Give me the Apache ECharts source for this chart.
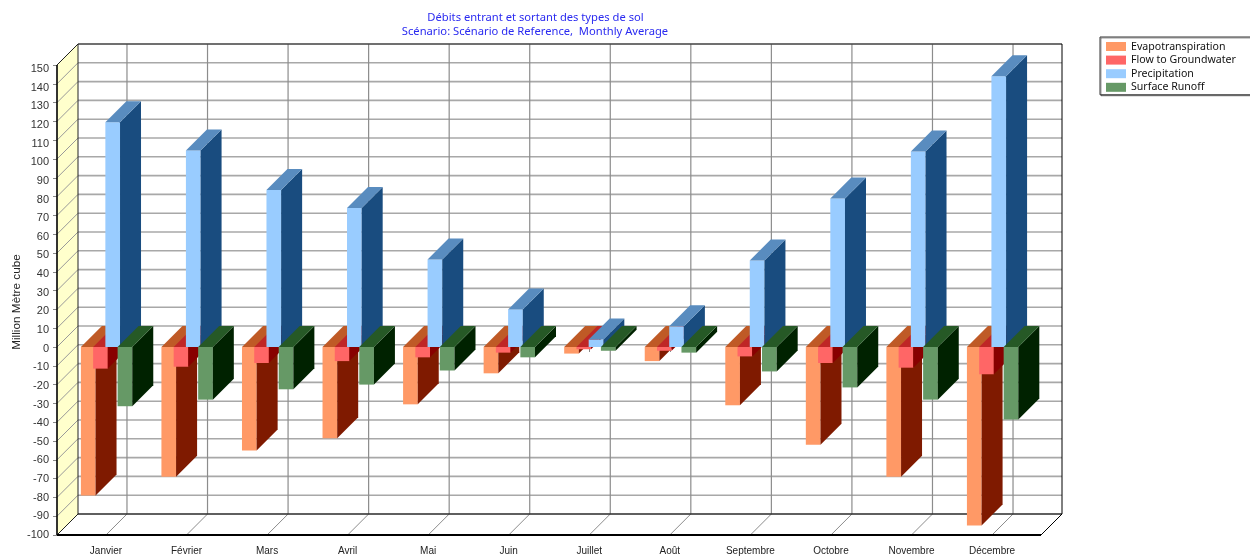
<!DOCTYPE html>
<html>
<head>
<meta charset="utf-8">
<script src="https://cdn.jsdelivr.net/npm/echarts@6/dist/echarts.min.js"></script>
<style>html,body{margin:0;padding:0;background:#fff}#c{width:1250px;height:556px}</style>
</head>
<body>
<div id="c"></div>
<script>
const titleLine1 = 'Débits entrant et sortant des types de sol';
const titleLine2 = 'Scénario: Scénario de Reference,  Monthly Average';
const yAxisName = 'Million Mètre cube';
const months = ['Janvier','Février','Mars','Avril','Mai','Juin','Juillet','Août','Septembre','Octobre','Novembre','Décembre'];
const evapotranspiration = [-79,-69,-55,-48.5,-30.5,-14,-3.5,-7.5,-31,-52,-69,-95];
const flowToGroundwater = [-11.5,-10.5,-8.5,-7.5,-5.5,-3,-1.2,-2,-5,-8.5,-11,-14.5];
const precipitation = [119.5,104.5,83.5,74,46.5,20,4,11,46,79,104,144];
const surfaceRunoff = [-31.5,-28,-22.5,-20,-12.5,-5.5,-2,-3,-13,-21.5,-28,-38.5];
const yTicks = [-100,-90,-80,-70,-60,-50,-40,-30,-20,-10,0,10,20,30,40,50,60,70,80,90,100,110,120,130,140,150];

const D = 21;              // depth of the 3D effect, px
const LEFT_INSET = 8.7;    // front plane extends this far beyond the band range
const RIGHT_INSET = 8.7;

function line(x1,y1,x2,y2,stroke,w){
  return {type:'line',silent:true,shape:{x1,y1,x2,y2},style:{stroke,lineWidth:w,fill:null}};
}
function poly(points,fill){
  return {type:'polygon',silent:true,shape:{points},style:{fill,stroke:null}};
}

function wallsItem(params,api){
  const cs = params.coordSys;
  const yB = api.coord([0,-100])[1], yT = api.coord([0,150])[1];
  const xL = cs.x-LEFT_INSET;
  return {type:'group',children:[
    poly([[xL,yB],[xL+D,yB-D],[xL+D,yT-D],[xL,yT]],'#ffffcc')
  ]};
}
function hGridItem(params,api){
  const cs = params.coordSys;
  const y = api.coord([0,api.value(0)])[1];
  const xL = cs.x-LEFT_INSET, xR = cs.x+cs.width+RIGHT_INSET;
  return {type:'group',children:[
    line(xL,y,xL+D,y-D,'#999999',1),
    line(xL+D,y-D,xR+D,y-D,'#a8a8a8',1.6)
  ]};
}
function vGridItem(params,api){
  const c = api.coord([api.value(0),-100]);
  const yT = api.coord([0,150])[1];
  return {type:'group',children:[
    line(c[0],c[1],c[0]+D,c[1]-D,'#8c8c8c',1),
    line(c[0]+D,c[1]-D,c[0]+D,yT-D,'#8c8c8c',1.2)
  ]};
}
function frameItem(params,api){
  const cs = params.coordSys;
  const yB = api.coord([0,-100])[1], yT = api.coord([0,150])[1];
  const xL = cs.x-LEFT_INSET, xR = cs.x+cs.width+RIGHT_INSET;
  const k = '#000000';
  return {type:'group',children:[
    line(xL+D,yT-D,xR+D,yT-D,'#222222',1),
    line(xL+D,yT-D,xL+D,yB-D,'#222222',1),
    line(xR+D,yT-D,xR+D,yB-D,k,1),
    line(xL+D,yB-D,xR+D,yB-D,k,1),
    line(xR,yB,xR+D,yB-D,k,1),
    line(xL,yB,xL+D,yB-D,'#222222',1),
    line(xL,yT,xL+D,yT-D,'#222222',1),
    line(xL,yT,xL,yB,k,1.6),
    line(xL,yB,xR,yB,k,2)
  ]};
}
function barSeries(name,values,seriesIndex,front,side,top){
  return {
    name,type:'custom',z:5,clip:false,
    itemStyle:{color:front},
    data:values.map((v,i)=>[i,v]),
    encode:{x:0,y:1},
    renderItem(params,api){
      const band = api.size([1,0])[0];
      const w = band*0.182, step = band*0.152;
      const cx = api.coord([api.value(0),0])[0];
      const x0 = cx-(3*step+w)/2+seriesIndex*step+0.6, x1 = x0+w;
      const v = api.value(1);
      const yTop = api.coord([0,Math.max(v,0)])[1];
      const yBot = api.coord([0,Math.min(v,0)])[1];
      return {type:'group',children:[
        poly([[x0,yTop],[x1,yTop],[x1,yBot],[x0,yBot]],front),
        poly([[x1,yTop],[x1+D,yTop-D],[x1+D,yBot-D],[x1,yBot]],side),
        poly([[x0,yTop],[x0+D,yTop-D],[x1+D,yTop-D],[x1,yTop]],top)
      ]};
    }
  };
}

const titleStyle = {fontFamily:'Noto Sans',fontSize:11.2,fontWeight:'normal',color:'#2a2af0',lineHeight:14};
const chart = echarts.init(document.getElementById('c'));
chart.setOption({
  animation:false,
  backgroundColor:'#ffffff',
  title:[
    {text:titleLine1,left:530.5,textAlign:'center',top:6,textStyle:titleStyle},
    {text:titleLine2,left:530,textAlign:'center',top:20,textStyle:titleStyle}
  ],
  legend:{
    orient:'vertical',left:1100,top:37,
    data:['Evapotranspiration','Flow to Groundwater','Precipitation','Surface Runoff'],
    icon:'rect',itemWidth:20,itemHeight:9,itemGap:2.6,
    padding:[4,16,2,6],
    backgroundColor:'#ffffff',borderColor:'#333333',borderWidth:1,
    shadowColor:'rgba(0,0,0,0.4)',shadowBlur:0,shadowOffsetX:1,shadowOffsetY:1,
    selectedMode:false,
    textStyle:{fontFamily:'Noto Sans',fontSize:10.6,color:'#111111',lineHeight:9}
  },
  // grid 0 carries the marks and tick marks; grid 1 only places the y labels,
  // which sit on a slightly tighter pitch than the ticks in the source chart.
  grid:[
    {left:65.7,top:65,width:966.6,height:470},
    {left:65.7,top:69,width:966.6,height:466}
  ],
  xAxis:[
    {
      type:'category',data:months,
      axisLine:{show:false},
      axisTick:{show:true,alignWithLabel:true,length:5,lineStyle:{color:'#888888',width:1}},
      axisLabel:{margin:11,interval:0,fontFamily:'Liberation Sans',fontSize:10,color:'#222222'},
      splitLine:{show:false}
    },
    {type:'category',gridIndex:1,data:months,show:false}
  ],
  yAxis:[
    {
      type:'value',min:-100,max:150,interval:10,offset:8.7,
      axisLine:{show:false},
      axisTick:{show:true,length:4,lineStyle:{color:'#888888',width:1}},
      axisLabel:{show:false},
      splitLine:{show:false}
    },
    {
      type:'value',gridIndex:1,min:-100,max:150,interval:10,offset:12.7,
      name:yAxisName,nameLocation:'middle',nameGap:30.5,nameRotate:90,nameMoveOverlap:false,
      nameTextStyle:{fontFamily:'Liberation Sans',fontSize:11.8,color:'#222222'},
      axisLine:{show:false},
      axisTick:{show:false},
      axisLabel:{margin:4,fontFamily:'Liberation Sans',fontSize:11,color:'#333333',showMinLabel:true,showMaxLabel:true},
      splitLine:{show:false}
    }
  ],
  series:[
    {name:'walls',type:'custom',z:1,clip:false,data:[[0,0]],encode:{x:0,y:1},renderItem:wallsItem,silent:true},
    {name:'hgrid',type:'custom',z:2,clip:false,data:yTicks.map(v=>[v]),encode:{y:0},renderItem:hGridItem,silent:true},
    {name:'vgrid',type:'custom',z:2,clip:false,data:months.map((m,i)=>[i]),encode:{x:0},renderItem:vGridItem,silent:true},
    {name:'frame',type:'custom',z:3,clip:false,data:[[0,0]],encode:{x:0,y:1},renderItem:frameItem,silent:true},
    barSeries('Evapotranspiration',evapotranspiration,0,'#ff9966','#7f1a00','#bf5a26'),
    barSeries('Flow to Groundwater',flowToGroundwater,1,'#ff6666','#880000','#bf2626'),
    barSeries('Precipitation',precipitation,2,'#99ccff','#194c7f','#598cbf'),
    barSeries('Surface Runoff',surfaceRunoff,3,'#669966','#002200','#265926')
  ]
});
</script>
</body>
</html>
